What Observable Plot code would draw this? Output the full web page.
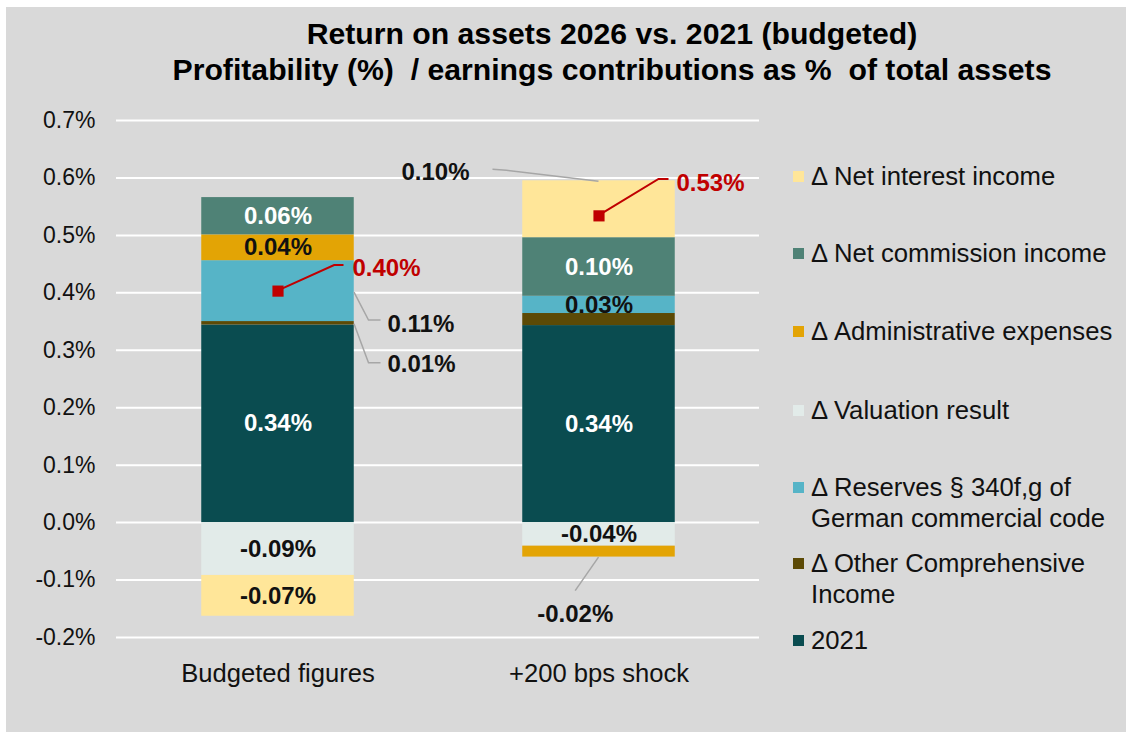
<!DOCTYPE html>
<html>
<head>
<meta charset="utf-8">
<script src="https://cdn.jsdelivr.net/npm/d3@7"></script>
<script src="https://cdn.jsdelivr.net/npm/@observablehq/plot@0.6"></script>
<style>
  body { margin: 0; background: #fff; font-family: "Liberation Sans", Arial, sans-serif; }
  #wrap { position: relative; width: 1126px; height: 732px; overflow: hidden; background: #fff; }
  #panel { position: absolute; left: 6px; top: 7px; right: 0; bottom: 0; background: #d9d9d9; }
  #title { position: absolute; left: 100px; width: 1024px; top: 16px; text-align: center;
           font-weight: bold; font-size: 30.2px; line-height: 36px; white-space: pre; color: #000; }
  #chart { position: absolute; left: 0; top: 0; }
  .leg { position: absolute; left: 793px; font-size: 25.7px; line-height: 31px; color: #111; white-space: pre; }
  .leg .sw { position: absolute; left: 0; top: 10px; width: 11px; height: 11px; }
  .leg .tx { position: absolute; left: 18px; top: 0; }
</style>
</head>
<body>
<div id="wrap">
  <div id="panel"></div>
  <div id="title"></div>
  <div id="chart"></div>
  <div id="legend"></div>
</div>
<script>
// ---------- data ----------
const titleLines = ["Return on assets 2026 vs. 2021 (budgeted)", "Profitability (%)  / earnings contributions as %  of total assets"];
const categories = ["Budgeted figures", "+200 bps shock"];
// stacking order (bottom to top); legend shows it reversed
const seriesNames = [
  "2021",
  "Δ Other Comprehensive Income",
  "Δ Reserves § 340f,g of German commercial code",
  "Δ Valuation result",
  "Δ Administrative expenses",
  "Δ Net commission income",
  "Δ Net interest income"
];
const legendLabels = [
  "2021",
  "Δ Other Comprehensive\nIncome",
  "Δ Reserves § 340f,g of\nGerman commercial code",
  "Δ Valuation result",
  "Δ Administrative expenses",
  "Δ Net commission income",
  "Δ Net interest income"
];
const seriesColors = ["#0a4c50", "#5c4a06", "#56b4c7", "#e2ebe9", "#e3a405", "#4f8276", "#ffe699"];
const budgetedValues = [0.344, 0.006, 0.106, -0.092, 0.0449, 0.0649, -0.071];
const shockValues    = [0.343, 0.021, 0.030, -0.041, -0.019, 0.102, 0.099];
const totalValues = [0.403, 0.534];   // return on assets (red markers)
const yTicks = [-0.2, -0.1, 0, 0.1, 0.2, 0.3, 0.4, 0.5, 0.6, 0.7];
// label placement per segment: in = inside bar, out = callout, none = hidden
const budgetedLabelMode = ["in", "out", "out", "in", "in", "in", "in"];
const shockLabelMode    = ["in", "none", "in", "in", "out", "in", "out"];
const whiteLabelSeries = ["2021", "Δ Net commission income"];

// ---------- build ----------
const valuesByCat = [budgetedValues, shockValues];
const modesByCat = [budgetedLabelMode, shockLabelMode];
const rows = [];
categories.forEach((c, i) => seriesNames.forEach((s, j) =>
  rows.push({cat: c, series: s, value: valuesByCat[i][j], mode: modesByCat[i][j]})));
const totalRows = categories.map((c, i) => ({cat: c, total: totalValues[i]}));
const fmt = v => v.toFixed(2) + "%";

document.getElementById("title").textContent = titleLines.join("\n");

const font = "Liberation Sans, Arial, sans-serif";
const labelText = white => d => (d.mode === "in" && whiteLabelSeries.includes(d.series) === white) ? fmt(d.value) : "";

const plot = Plot.plot({
  width: 1126, height: 732,
  marginLeft: 116, marginRight: 367, marginTop: 120, marginBottom: 95,
  style: {background: "transparent", fontFamily: font, fontSize: "23px", color: "#111"},
  x: {domain: categories, padding: 0, label: null},
  y: {domain: [-0.2, 0.7], label: null},
  color: {domain: seriesNames, range: seriesColors},
  marks: [
    Plot.ruleY(yTicks, {stroke: "white", strokeWidth: 2}),
    Plot.barY(rows, {x: "cat", y: "value", fill: "series", order: seriesNames, insetLeft: 84.25, insetRight: 84.25}),
    Plot.text(rows, Plot.stackY({x: "cat", y: "value", z: "series", order: seriesNames,
      text: labelText(true), fill: "white", fontSize: 24, fontWeight: "bold"})),
    Plot.text(rows, Plot.stackY({x: "cat", y: "value", z: "series", order: seriesNames,
      text: labelText(false), fill: "#111", fontSize: 24, fontWeight: "bold"})),
    Plot.dot(totalRows, {x: "cat", y: "total", symbol: "square", r: 6.3, fill: "#c00000", stroke: "none"}),
    Plot.axisY({ticks: yTicks, tickFormat: d => d.toFixed(1) + "%", tickSize: 0, tickPadding: 21, fontSize: 23, label: null}),
    Plot.axisX({tickSize: 0, tickPadding: 26, fontSize: 25.6, label: null})
  ]
});
document.getElementById("chart").appendChild(plot);

// ---------- callouts drawn with Plot's scales ----------
const sx = plot.scale("x"), sy = plot.scale("y");
const xs = sx.apply ? (v => sx.apply(v)) : d3.scaleBand(sx.domain, sx.range).paddingInner(0).paddingOuter(0);
const ys = sy.apply ? (v => sy.apply(v)) : d3.scaleLinear(sy.domain, sy.range);
const cxOf = c => xs(c) + sx.bandwidth / 2;
function bounds(ci, sj) {
  const vals = valuesByCat[ci];
  const v = vals[sj];
  let base = 0;
  for (let k = 0; k < sj; k++) if ((vals[k] >= 0) === (v >= 0)) base += vals[k];
  const a = base, b = base + v;
  return {top: Math.max(a, b), bottom: Math.min(a, b), mid: (a + b) / 2};
}
const callouts = [
  {ci: 0, sj: 2, ref: "mid",    path: [[76.5, 1.5], [91, 29.5], [103, 29.5]], label: [110, 32.5, "start"]},
  {ci: 0, sj: 1, ref: "mid",    path: [[76.5, 1], [91, 40], [103, 40]],       label: [110, 40.5, "start"]},
  {ci: 1, sj: 6, ref: "top",    path: [[0, 1], [-92, -10], [-106, -11]],      label: [-129, -8.6, "end"]},
  {ci: 1, sj: 4, ref: "bottom", path: [[0, 0.5], [-23.3, 34]],                label: [-23.3, 56.7, "middle"]}
];
const totalCallouts = [
  {ci: 0, path: [[0, 0], [56.6, -25.6], [66, -25.6]], label: [75, -23.3]},
  {ci: 1, path: [[0, 0], [60, -36.4], [70, -36.4]], label: [78, -33]}
];
const svg = d3.select(plot);
const g = svg.append("g").attr("font-family", font).attr("font-size", 24).attr("font-weight", "bold");
const line = d3.line();
callouts.forEach(co => {
  const cx = cxOf(categories[co.ci]);
  const cy = ys(bounds(co.ci, co.sj)[co.ref]);
  g.append("path").attr("d", line(co.path.map(([dx, dy]) => [cx + dx, cy + dy])))
    .attr("fill", "none").attr("stroke", "#a6a6a6").attr("stroke-width", 1.5);
  g.append("text").attr("x", cx + co.label[0]).attr("y", cy + co.label[1]).attr("dy", "0.35em")
    .attr("text-anchor", co.label[2]).attr("fill", "#111").text(fmt(valuesByCat[co.ci][co.sj]));
});
totalCallouts.forEach(co => {
  const cx = cxOf(categories[co.ci]);
  const cy = ys(totalValues[co.ci]);
  g.append("path").attr("d", line(co.path.map(([dx, dy]) => [cx + dx, cy + dy])))
    .attr("fill", "none").attr("stroke", "#c00000").attr("stroke-width", 2);
  g.append("text").attr("x", cx + co.label[0]).attr("y", cy + co.label[1]).attr("dy", "0.35em")
    .attr("text-anchor", "start").attr("fill", "#c00000").text(fmt(totalValues[co.ci]));
});

// ---------- legend ----------
const legendTops = [624.5, 547.5, 471.5, 394.5, 316, 237.5, 160.5];
const legend = document.getElementById("legend");
seriesNames.forEach((s, j) => {
  const item = document.createElement("div");
  item.className = "leg";
  item.style.top = legendTops[j] + "px";
  const sw = document.createElement("div");
  sw.className = "sw";
  sw.style.background = seriesColors[j];
  const tx = document.createElement("div");
  tx.className = "tx";
  tx.textContent = legendLabels[j];
  item.appendChild(sw); item.appendChild(tx);
  legend.appendChild(item);
});
</script>
</body>
</html>
